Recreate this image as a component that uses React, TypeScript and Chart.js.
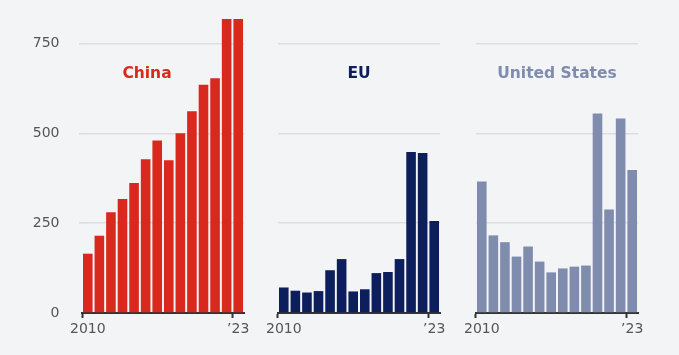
import React, { useEffect, useRef } from 'react';
import { Chart, registerables } from 'chart.js';

Chart.register(...registerables);

const years = ['2010', '2011', '2012', '2013', '2014', '2015', '2016', '2017', '2018', '2019', '2020', '2021', '2022', '2023'];
const chinaValues = [165, 215, 280, 317, 362, 428, 480, 425, 500, 561, 635, 653, 818, 818];
const euValues = [71, 62, 57, 61, 119, 150, 60, 66, 111, 114, 150, 448, 445, 256];
const usValues = [366, 216, 197, 157, 185, 143, 113, 124, 129, 132, 555, 288, 541, 398];
const yTickValues = [0, 250, 500, 750];
const yMax = 818;
const xTickLabels: Record<number, string> = { 0: '2010', 13: '\u201923' };

const FONT = '"DejaVu Sans", sans-serif';
const BG = '#f3f4f6';

type PanelDef = {
  title: string;
  color: string;
  values: number[];
  left: number;
  width: number;
  yWidth: number;
  showY: boolean;
  titleX?: number;
};

const panels: PanelDef[] = [
  { title: 'China', color: '#d9281d', values: chinaValues, left: 0, width: 250, yWidth: 82, showY: true, titleX: 147 },
  { title: 'EU', color: '#0c1f5c', values: euValues, left: 250, width: 196, yWidth: 28, showY: false },
  { title: 'United States', color: '#7f8cae', values: usValues, left: 460, width: 184, yWidth: 16, showY: false },
];

const titlePlugin = {
  id: 'panelTitle',
  afterDatasetsDraw(chart: any, _args: any, opts: any) {
    const { ctx, chartArea } = chart;
    ctx.save();
    ctx.font = `bold ${opts.size}px ${FONT}`;
    ctx.fillStyle = opts.color;
    ctx.textAlign = 'center';
    ctx.textBaseline = 'middle';
    const x = opts.x ?? (chartArea.left + chartArea.right) / 2;
    ctx.fillText(opts.text, x, opts.y);
    ctx.restore();
  },
};

function Panel({ p }: { p: PanelDef }) {
  const ref = useRef<HTMLCanvasElement>(null);
  useEffect(() => {
    const chart = new Chart(ref.current!, {
      type: 'bar',
      data: {
        labels: years,
        datasets: [
          {
            data: p.values,
            backgroundColor: p.color,
            barPercentage: 0.83,
            categoryPercentage: 1,
          },
        ],
      },
      options: {
        animation: false,
        responsive: false,
        maintainAspectRatio: false,
        devicePixelRatio: 1,
        layout: { padding: { top: 19, right: 6, left: 0, bottom: 0 } },
        plugins: {
          legend: { display: false },
          tooltip: { enabled: false },
          title: { display: false },
          panelTitle: { text: p.title, color: p.color, size: 15.5, y: 74, x: p.titleX },
        } as any,
        scales: {
          x: {
            grid: {
              display: true,
              drawOnChartArea: false,
              drawTicks: true,
              tickLength: 5,
              tickWidth: 2,
              tickColor: (c: any) => (xTickLabels[c.index] ? '#333' : 'rgba(0,0,0,0)'),
            },
            border: { display: true, color: '#333', width: 2 },
            ticks: {
              autoSkip: false,
              maxRotation: 0,
              padding: 3,
              color: '#555',
              font: { family: FONT, size: 14 },
              callback: (_v: any, i: number) => xTickLabels[i] ?? '',
            },
            afterFit: (s: any) => {
              s.height = 42;
              s.paddingLeft = 0;
              s.paddingRight = 0;
            },
          },
          y: {
            min: 0,
            max: yMax,
            afterBuildTicks: (s: any) => {
              s.ticks = yTickValues.map((v) => ({ value: v }));
            },
            afterFit: (s: any) => {
              s.width = p.yWidth;
              s.paddingTop = 0;
              s.paddingBottom = 0;
            },
            grid: {
              color: (c: any) => (c.tick && c.tick.value === 0 ? 'rgba(0,0,0,0)' : '#dcdde1'),
              tickColor: (c: any) => (c.tick && c.tick.value === 0 ? 'rgba(0,0,0,0)' : '#dcdde1'),
              lineWidth: 1.5,
              drawTicks: p.showY,
              tickLength: 3,
            },
            border: { display: false },
            ticks: {
              display: p.showY,
              padding: 19.5,
              color: '#555',
              font: { family: FONT, size: 14 },
            },
          },
        },
      } as any,
      plugins: [titlePlugin],
    });
    return () => chart.destroy();
  }, []);
  return (
    <canvas
      ref={ref}
      width={p.width}
      height={355}
      style={{ position: 'absolute', left: p.left, top: 0, width: p.width, height: 355 }}
    />
  );
}

export default function App() {
  return (
    <div
      style={{
        position: 'absolute',
        left: 0,
        top: 0,
        width: 679,
        height: 355,
        background: BG,
        overflow: 'hidden',
      }}
    >
      {panels.map((p) => (
        <Panel key={p.title} p={p} />
      ))}
    </div>
  );
}
